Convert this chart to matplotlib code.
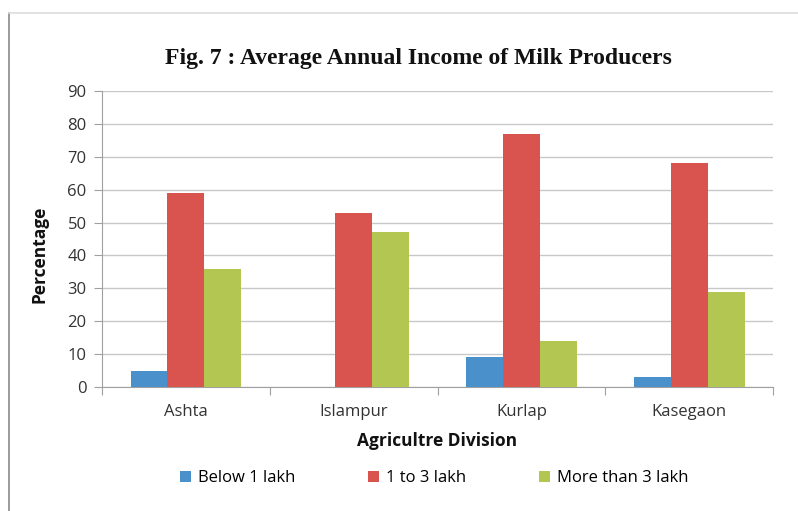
import numpy as np
import matplotlib.pyplot as plt
from matplotlib.lines import Line2D
from matplotlib.patches import Patch

# Income share (%) per agriculture division
divisions = ['Ashta', 'Islampur', 'Kurlap', 'Kasegaon']
below_1 = [5, 0, 9, 3]
one_to_3 = [59, 53, 77, 68]
above_3 = [36, 47, 14, 29]
series = ['Below 1 lakh', '1 to 3 lakh', 'More than 3 lakh']
colors = ['#4A91CC', '#D9534F', '#B3C652']

fig = plt.figure(figsize=(7.98, 5.11), dpi=100)
ax = fig.add_axes([0.1278, 0.2427, 0.8409, 0.5792])

x = np.arange(len(divisions))
w = 0.22
for k, (vals, c) in enumerate(zip([below_1, one_to_3, above_3], colors)):
    ax.bar(x + (k - 1) * w, vals, w, color=c, zorder=3)

ax.set_xlim(-0.5, len(divisions) - 0.5)
ax.set_ylim(0, 90)
ax.set_yticks(range(0, 91, 10))
ax.yaxis.grid(True, color='#C8C8C8', linewidth=1, zorder=0)
ax.tick_params(axis='y', length=6, color='#A0A0A0', labelsize=12, labelcolor='#333333', pad=5)
ax.set_yticklabels([str(v) for v in range(0, 91, 10)], fontfamily='Open Sans')

# category separators instead of centered ticks
ax.set_xticks(np.arange(-0.5, len(divisions), 1.0))
ax.set_xticklabels([])
ax.tick_params(axis='x', length=6, color='#A0A0A0')
for i, name in enumerate(divisions):
    ax.text(i, -5.2, name, ha='center', va='top', fontsize=12, color='#333333',
            fontfamily='Open Sans')

for s in ['top', 'right']:
    ax.spines[s].set_visible(False)
for s in ['left', 'bottom']:
    ax.spines[s].set_color('#A0A0A0')

fig.text(0.524, 0.885, 'Fig. 7 : Average Annual Income of Milk Producers', ha='center', va='center',
         fontsize=17, fontweight='bold', fontfamily='Liberation Serif', color='#111111')
fig.text(0.05, 0.503, 'Percentage', rotation=90, ha='center', va='center',
         fontsize=12.5, fontweight='bold', fontfamily='Open Sans', color='#111111')
fig.text(0.548, 0.137, 'Agricultre Division', ha='center', va='center',
         fontsize=12.5, fontweight='bold', fontfamily='Open Sans', color='#111111')

handles = [Patch(facecolor=c) for c in colors]
fig.legend(handles, series, loc='center', bbox_to_anchor=(0.544, 0.064), ncol=3, frameon=False,
           handlelength=0.65, handleheight=0.65, handletextpad=0.4, columnspacing=4.4,
           prop={'family': 'Open Sans', 'size': 12})

# page frame around the figure
fig.add_artist(Line2D([0.0113, 0.0113], [0, 0.975], color='#8A8A8A', linewidth=1.2))
fig.add_artist(Line2D([0.0113, 1.0], [0.975, 0.975], color='#DDDDDD', linewidth=1.2))

fig.savefig('out.png', dpi=100)
